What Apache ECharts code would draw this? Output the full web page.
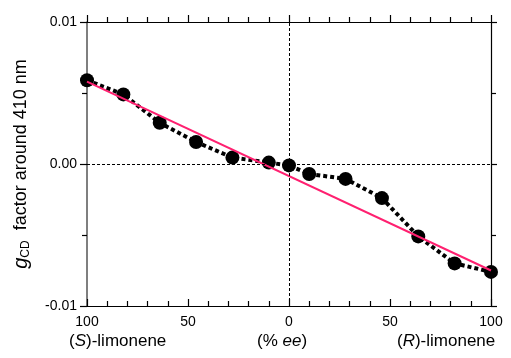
<!DOCTYPE html>
<html>
<head>
<meta charset="utf-8">
<script src="https://cdn.jsdelivr.net/npm/echarts@6/dist/echarts.min.js"></script>
<style>
  html, body { margin: 0; padding: 0; background: #fff; }
  #chart { width: 511px; height: 358px; }
</style>
</head>
<body>
<div id="chart"></div>
<script>
// % ee : negative = (S)-limonene excess, positive = (R)-limonene excess
var eeValues = [-100, -82, -64, -46, -28, -10, 0, 10, 28, 46, 64, 82, 100];
var gValues = [0.0059, 0.0049, 0.0029, 0.00155, 0.00045, 0.0001, -0.0001, -0.0007, -0.00105, -0.0024, -0.0051, -0.0070, -0.0076];
// linear fit end points
var fitX = [-100, 100];
var fitY = [0.0058, -0.0075];
var yTicks = ['-0.01', '0.00', '0.01'];

var font = 'Liberation Sans, Arial, sans-serif';

var chart = echarts.init(document.getElementById('chart'));

function tickLine() { return { color: '#000', width: 1.2 }; }

var option = {
  animation: false,
  backgroundColor: '#fff',
  textStyle: { fontFamily: font },
  grid: { left: 87, right: 20, top: 22, bottom: 52 },
  xAxis: [
    {
      type: 'value', position: 'bottom', min: -100, max: 100, interval: 50,
      axisLine: { onZero: false, lineStyle: { color: '#000', width: 1.2 } },
      axisTick: { show: true, inside: true, length: 7, lineStyle: tickLine() },
      minorTick: { show: true, splitNumber: 5, length: 5, lineStyle: tickLine() },
      axisLabel: {
        color: '#000', fontSize: 14, fontFamily: font, margin: 9,
        formatter: function (v) { return String(Math.abs(v)); }
      },
      splitLine: { show: false }
    },
    {
      type: 'value', position: 'top', min: -100, max: 100, interval: 50,
      axisLine: { onZero: false, lineStyle: { color: '#000', width: 1.2 } },
      axisTick: { show: true, inside: false, length: 7, lineStyle: tickLine() },
      minorTick: { show: true, splitNumber: 5, length: 5, lineStyle: tickLine() },
      axisLabel: { show: false },
      splitLine: { show: false }
    }
  ],
  yAxis: [
    {
      type: 'value', position: 'left', min: -0.01, max: 0.01, interval: 0.01,
      axisLine: { show: true, onZero: false, lineStyle: { color: '#555', width: 1.5 } },
      axisTick: { show: true, inside: false, length: 7, lineStyle: tickLine() },
      minorTick: { show: true, splitNumber: 2, length: 5, lineStyle: tickLine() },
      axisLabel: {
        color: '#000', fontSize: 14, fontFamily: font, margin: 10,
        formatter: function (v) {
          var i = Math.round(v / 0.01) + 1;
          return yTicks[i];
        }
      },
      splitLine: { show: false },
      name: '{g|g}{sub|CD}{t|  factor around 410 nm}',
      nameLocation: 'middle', nameGap: 55, nameRotate: 90,
      nameTextStyle: {
        rich: {
          g: { fontSize: 20, fontStyle: 'italic', fontFamily: font, color: '#000' },
          sub: { fontSize: 12, fontFamily: font, color: '#000', verticalAlign: 'bottom', padding: [9, 0, 0, 0] },
          t: { fontSize: 18, fontFamily: font, color: '#000' }
        }
      }
    },
    {
      type: 'value', position: 'right', min: -0.01, max: 0.01, interval: 0.01,
      axisLine: { show: true, onZero: false, lineStyle: { color: '#000', width: 1.2 } },
      axisTick: { show: true, inside: false, length: 6, lineStyle: tickLine() },
      minorTick: { show: true, splitNumber: 2, length: 5, lineStyle: tickLine() },
      axisLabel: { show: false },
      splitLine: { show: false }
    }
  ],
  series: [
    {
      type: 'line', name: 'gCD',
      data: eeValues.map(function (x, i) { return [x, gValues[i]]; }),
      symbol: 'circle', symbolSize: 14,
      itemStyle: { color: '#000' },
      lineStyle: { color: '#000', width: 4, type: [4, 3] },
      z: 3,
      markLine: {
        silent: true, symbol: 'none', label: { show: false },
        lineStyle: { color: '#000', width: 1, type: [3, 2] },
        data: [{ xAxis: 0 }, { yAxis: 0 }]
      }
    },
    {
      type: 'line', name: 'fit',
      data: fitX.map(function (x, i) { return [x, fitY[i]]; }),
      symbol: 'none',
      lineStyle: { color: '#ff2070', width: 2 },
      z: 4
    }
  ],
  graphic: [
    {
      type: 'text', left: 69, top: 333,
      style: {
        text: '({i|S})-limonene', fontSize: 17, fontFamily: font, fill: '#000',
        rich: { i: { fontSize: 17, fontStyle: 'italic', fontFamily: font } }
      }
    },
    {
      type: 'text', left: 257, top: 333,
      style: {
        text: '(% {i|ee})', fontSize: 17, fontFamily: font, fill: '#000',
        rich: { i: { fontSize: 17, fontStyle: 'italic', fontFamily: font } }
      }
    },
    {
      type: 'text', left: 397, top: 333,
      style: {
        text: '({i|R})-limonene', fontSize: 17, fontFamily: font, fill: '#000',
        rich: { i: { fontSize: 17, fontStyle: 'italic', fontFamily: font } }
      }
    }
  ]
};

chart.setOption(option);
</script>
</body>
</html>
